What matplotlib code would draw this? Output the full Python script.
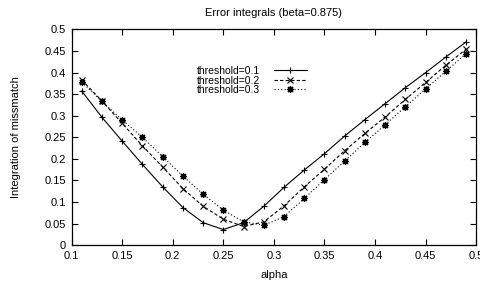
import matplotlib
matplotlib.use("Agg")
import matplotlib.pyplot as plt

alpha = [0.11, 0.13, 0.15, 0.17, 0.19, 0.21, 0.23, 0.25, 0.27, 0.29,
         0.31, 0.33, 0.35, 0.37, 0.39, 0.41, 0.43, 0.45, 0.47, 0.49]
thr_01 = [0.357, 0.296, 0.241, 0.187, 0.135, 0.087, 0.052, 0.036, 0.052, 0.090,
          0.134, 0.174, 0.212, 0.253, 0.291, 0.328, 0.365, 0.400, 0.436, 0.471]
thr_02 = [0.383, 0.334, 0.282, 0.230, 0.181, 0.131, 0.090, 0.060, 0.043, 0.054,
          0.091, 0.135, 0.176, 0.219, 0.259, 0.297, 0.338, 0.377, 0.417, 0.454]
thr_03 = [0.378, 0.333, 0.290, 0.250, 0.205, 0.160, 0.118, 0.081, 0.054, 0.046,
          0.066, 0.108, 0.152, 0.195, 0.238, 0.279, 0.321, 0.362, 0.403, 0.444]

plt.rcParams["font.family"] = ["Liberation Sans", "DejaVu Sans"]
plt.rcParams["font.size"] = 8

fig = plt.figure(figsize=(4.81, 2.83), dpi=100)
ax = fig.add_axes([0.149, 0.134, 0.841, 0.762])

ax.plot(alpha, thr_01, color="black", lw=0.8, ls="-", marker="+", ms=5, mew=0.8,
        label="threshold=0.1")
ax.plot(alpha, thr_02, color="black", lw=0.8, ls=(0, (3, 2)), marker="x", ms=4.5, mew=0.8,
        label="threshold=0.2")
ax.plot(alpha, thr_03, color="black", lw=0.8, ls=(0, (1, 2)), marker=(8, 2, 0), ms=5, mew=0.9,
        label="threshold=0.3")

ax.set_xlim(0.1, 0.5)
ax.set_ylim(0, 0.5)
ax.set_xticks([0.1, 0.15, 0.2, 0.25, 0.3, 0.35, 0.4, 0.45, 0.5])
ax.set_xticklabels(["0.1", "0.15", "0.2", "0.25", "0.3", "0.35", "0.4", "0.45", "0.5"])
ax.set_yticks([0, 0.05, 0.1, 0.15, 0.2, 0.25, 0.3, 0.35, 0.4, 0.45, 0.5])
ax.set_yticklabels(["0", "0.05", "0.1", "0.15", "0.2", "0.25", "0.3", "0.35", "0.4", "0.45", "0.5"])
ax.tick_params(direction="in", top=True, right=True, length=4, width=0.8, pad=4)
for s in ax.spines.values():
    s.set_linewidth(0.9)

ax.set_title("Error integrals (beta=0.875)", fontsize=8, pad=10)
ax.set_xlabel("alpha", labelpad=7)
ax.set_ylabel("Integration of missmatch", labelpad=17)

ax.legend(loc="upper right", bbox_to_anchor=(0.582, 0.83), frameon=False, markerfirst=False,
          fontsize=7.5, handlelength=3.2, handletextpad=1.3, labelspacing=-0.05,
          borderpad=0, borderaxespad=0)

fig.savefig("out.png", dpi=100)
